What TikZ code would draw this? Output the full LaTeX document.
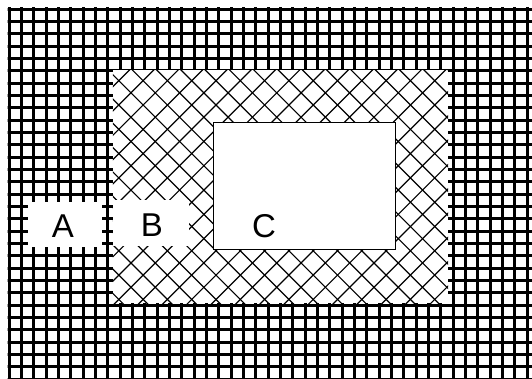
\documentclass[tikz,border=0pt]{standalone}
\usepackage{fontspec}
\setmainfont{Liberation Sans}
\begin{document}
\begin{tikzpicture}[x=1pt,y=-1pt,
  gridline/.style={line width=3pt,black},
  hatchline/.style={line width=1.2pt,black},
  whitebox/.style={fill=white,draw=none,inner sep=0pt},
  lbl/.style={font=\fontsize{33}{38}\selectfont,inner sep=0pt}]
\useasboundingbox (0,0) rectangle (532,378);
\fill[white] (0,0) rectangle (532,378);
% outer grid
\begin{scope}
  \clip (7.5,7.5) rectangle (532,378);
  \foreach \i in {0,...,42} \draw[gridline] ({9.3+12.33*\i},0) -- ({9.3+12.33*\i},378);
  \foreach \j in {0,...,30} \draw[gridline] (0,{9.3+12.33*\j}) -- (532,{9.3+12.33*\j});
\end{scope}
% cross-hatched region
\node (hatch) [whitebox, minimum width=335pt, minimum height=233pt] at (280.5,186.5) {};
\begin{scope}
  \clip (hatch.north west) rectangle (hatch.south east);
  \foreach \k in {-12,...,14} \draw[hatchline] ({86.7+24.3*\k+60},60) -- ({86.7+24.3*\k+313},313);
  \foreach \k in {-6,...,20} \draw[hatchline] ({296.7+24.3*\k-60},60) -- ({296.7+24.3*\k-313},313);
\end{scope}
% boxes
\node (bbox) [whitebox, minimum width=76pt, minimum height=46pt] at (151,223) {};
\node (cbox) [whitebox, draw=black, line width=1pt, minimum width=182pt, minimum height=127pt] at (304,185.5) {};
\node (abox) [whitebox, minimum width=74pt, minimum height=45pt] at (65,224.5) {};
% labels
\node (A) [lbl] at (63,226) {A};
\node (B) [lbl] at (152,225) {B};
\node (C) [lbl] at (264,226) {C};
\end{tikzpicture}
\end{document}
